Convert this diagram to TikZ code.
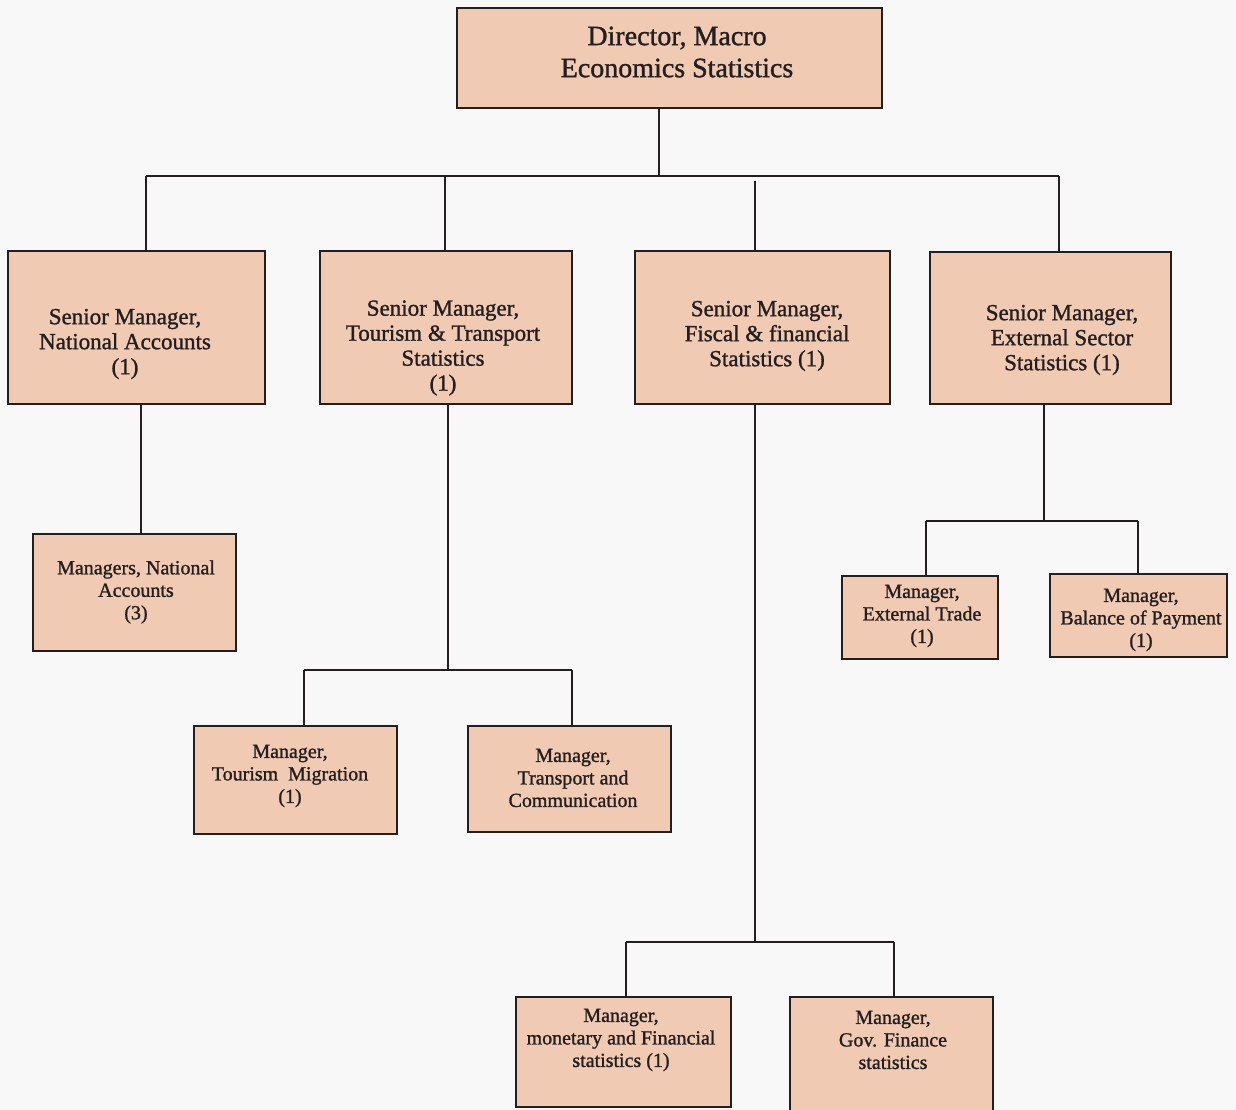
\documentclass[tikz,border=0pt]{standalone}
\usepackage{fontspec}
\newfontfamily\chartfont{Liberation Serif}[FakeBold=1.2]
\definecolor{boxfill}{HTML}{F0CAB2}
\definecolor{ink}{HTML}{231F20}
\definecolor{paper}{HTML}{F8F8F8}
\begin{document}
\begin{tikzpicture}[x=1pt,y=-1pt,
  box/.style={draw=ink, fill=boxfill, line width=2.6pt, rectangle, inner sep=0pt},
  big/.style={align=center, text=ink, inner sep=0pt, font=\chartfont\fontsize{28}{32}\selectfont},
  mid/.style={align=center, text=ink, inner sep=0pt, font=\chartfont\fontsize{23}{25}\selectfont},
  small/.style={align=center, text=ink, inner sep=0pt, font=\chartfont\fontsize{20}{22.5}\selectfont},
  wire/.style={draw=ink, line width=2.4pt}]
% page
\fill[paper] (0,0) rectangle (1236,1110);
\useasboundingbox (0,0) rectangle (1236,1110);

% director
\node[box, minimum width=425pt, minimum height=100pt] (dir) at (669.5,58) {};
\node[big] (dirT) at (677,52) {Director, Macro\\Economics Statistics};

% senior managers
\node[box, minimum width=257pt, minimum height=153pt] (na) at (136.5,327.5) {};
\node[mid] (naT) at (125,344) {Senior Manager,\\National Accounts\\(1)};
\node[box, minimum width=252pt, minimum height=153pt] (tt) at (446,327.5) {};
\node[mid] (ttT) at (443,348) {Senior Manager,\\Tourism \& Transport\\Statistics\\(1)};
\node[box, minimum width=255pt, minimum height=153pt] (fs) at (762.5,327.5) {};
\node[mid] (fsT) at (767,336) {Senior Manager,\\Fiscal \& financial\\Statistics (1)};
\node[box, minimum width=241pt, minimum height=152pt] (es) at (1050.5,328) {};
\node[mid] (esT) at (1062,340) {Senior Manager,\\External Sector\\Statistics (1)};

% managers
\node[box, minimum width=203pt, minimum height=117pt] (nam) at (134.5,592.5) {};
\node[small] (namT) at (136,592) {Managers, National\\Accounts\\(3)};
\node[box, minimum width=203pt, minimum height=108pt] (tm) at (295.5,780) {};
\node[small] (tmT) at (290,776) {Manager,\\Tourism\ \ Migration\\(1)};
\node[box, minimum width=203pt, minimum height=106pt] (tc) at (569.5,779) {};
\node[small] (tcT) at (573,778) {Manager,\\Transport and\\Communication};
\node[box, minimum width=215pt, minimum height=110pt] (mf) at (623.5,1052) {};
\node[small] (mfT) at (621,1040) {Manager,\\monetary and Financial\\statistics (1)};
\node[box, minimum width=203pt, minimum height=123pt] (gf) at (891.5,1058.5) {};
\node[small] (gfT) at (893,1040) {Manager,\\Gov. Finance\\statistics};
\node[box, minimum width=156pt, minimum height=83pt] (et) at (920,617.5) {};
\node[small] (etT) at (922,616) {Manager,\\External Trade\\(1)};
\node[box, minimum width=177pt, minimum height=83pt] (bp) at (1138.5,615.5) {};
\node[small] (bpT) at (1141,620) {Manager,\\Balance of Payment\\(1)};

% junction points
\coordinate (j0) at (659,176);
\coordinate (busL) at (146,176);
\coordinate (busB) at (445,176);
\coordinate (busC) at (755,181);
\coordinate (busR) at (1059,176);
\coordinate (aj) at (141,404);
\coordinate (bj) at (448,670);
\coordinate (bl) at (304,670);
\coordinate (br) at (572,670);
\coordinate (cj) at (755,942);
\coordinate (cl) at (626,942);
\coordinate (cr) at (894,942);
\coordinate (dj) at (1044,521);
\coordinate (dl) at (926,521);
\coordinate (dr) at (1138,521);

% top level
\draw[wire] (dir.south -| j0) -- (j0);
\draw[wire] (busL) -- (busR);
\draw[wire] (busL) -- (busL |- na.north);
\draw[wire] (busB) -- (busB |- tt.north);
\draw[wire] (busC) -- (busC |- fs.north);
\draw[wire] (busR) -- (busR |- es.north);

% national accounts
\draw[wire] (na.south -| aj) -- (aj |- nam.north);

% tourism and transport
\draw[wire] (tt.south -| bj) -- (bj);
\draw[wire] (bl) -- (br);
\draw[wire] (bl) -- (bl |- tm.north);
\draw[wire] (br) -- (br |- tc.north);

% fiscal and financial
\draw[wire] (fs.south -| cj) -- (cj);
\draw[wire] (cl) -- (cr);
\draw[wire] (cl) -- (cl |- mf.north);
\draw[wire] (cr) -- (cr |- gf.north);

% external sector
\draw[wire] (es.south -| dj) -- (dj);
\draw[wire] (dl) -- (dr);
\draw[wire] (dl) -- (dl |- et.north);
\draw[wire] (dr) -- (dr |- bp.north);
\end{tikzpicture}
\end{document}
